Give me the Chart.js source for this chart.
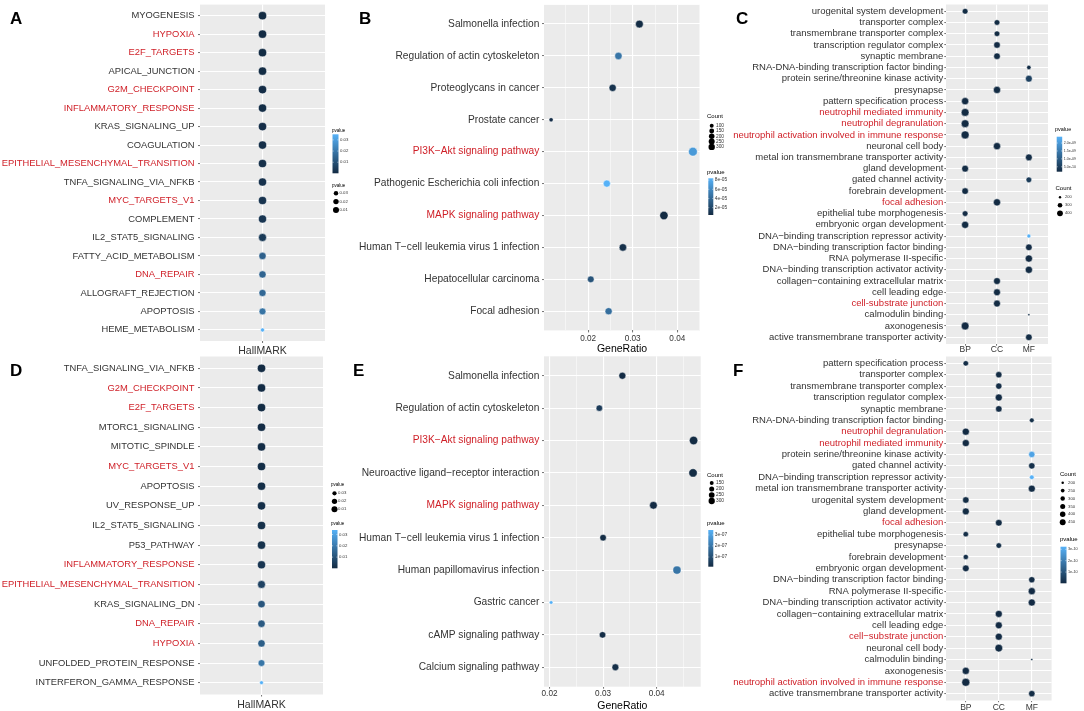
<!DOCTYPE html>
<html lang="en">
<head>
<meta charset="UTF-8">
<title>Enrichment dot plots</title>
<script src="https://cdn.jsdelivr.net/npm/chart.js"></script>
<style>
  html, body { margin: 0; padding: 0; background: #fff; width: 1084px; height: 711px; overflow: hidden; }
  canvas { position: absolute; }
  .tag { position: absolute; font: bold 17px "Liberation Sans", Arial, sans-serif; line-height: 17px; color: #000; }
</style>
</head>
<body>
<canvas id="cA"></canvas>
<canvas id="cB"></canvas>
<canvas id="cC"></canvas>
<canvas id="cD"></canvas>
<canvas id="cE"></canvas>
<canvas id="cF"></canvas>
<div class="tag" style="left:10px;top:10px">A</div>
<div class="tag" style="left:359px;top:10px">B</div>
<div class="tag" style="left:736px;top:10px">C</div>
<div class="tag" style="left:10px;top:362px">D</div>
<div class="tag" style="left:353px;top:362px">E</div>
<div class="tag" style="left:733px;top:362px">F</div>
<script>
// ---- A: hallmark sets, first comparison ----
const termsA = ['MYOGENESIS', 'HYPOXIA', 'E2F_TARGETS', 'APICAL_JUNCTION', 'G2M_CHECKPOINT',
  'INFLAMMATORY_RESPONSE', 'KRAS_SIGNALING_UP', 'COAGULATION', 'EPITHELIAL_MESENCHYMAL_TRANSITION',
  'TNFA_SIGNALING_VIA_NFKB', 'MYC_TARGETS_V1', 'COMPLEMENT', 'IL2_STAT5_SIGNALING',
  'FATTY_ACID_METABOLISM', 'DNA_REPAIR', 'ALLOGRAFT_REJECTION', 'APOPTOSIS', 'HEME_METABOLISM'];
const pvalA = [0.0001, 0.0002, 0.0003, 0.0005, 0.0006, 0.0008, 0.0010, 0.0012, 0.0015,
  0.0020, 0.0025, 0.0030, 0.0040, 0.0140, 0.0150, 0.0160, 0.0190, 0.0350];
const redA = ['HYPOXIA', 'E2F_TARGETS', 'G2M_CHECKPOINT', 'INFLAMMATORY_RESPONSE',
  'EPITHELIAL_MESENCHYMAL_TRANSITION', 'MYC_TARGETS_V1', 'DNA_REPAIR'];

// ---- B: KEGG, first comparison ----
const termsB = ['Salmonella infection', 'Regulation of actin cytoskeleton', 'Proteoglycans in cancer',
  'Prostate cancer', 'PI3K\u2212Akt signaling pathway', 'Pathogenic Escherichia coli infection',
  'MAPK signaling pathway', 'Human T\u2212cell leukemia virus 1 infection', 'Hepatocellular carcinoma',
  'Focal adhesion'];
const ratioB = [0.0315, 0.0268, 0.0255, 0.0117, 0.0435, 0.0242, 0.0370, 0.0278, 0.0206, 0.0246];
const countB = [236, 201, 191, 88, 326, 181, 278, 208, 154, 185];
const pvalB = [5e-6, 4.8e-5, 9e-6, 6e-6, 7e-5, 8.4e-5, 4e-6, 7e-6, 2.8e-5, 4.4e-5];
const redB = ['PI3K\u2212Akt signaling pathway', 'MAPK signaling pathway'];

// ---- C: GO, first comparison ----
const termsC = ['urogenital system development', 'transporter complex', 'transmembrane transporter complex',
  'transcription regulator complex', 'synaptic membrane', 'RNA-DNA-binding transcription factor binding',
  'protein serine/threonine kinase activity', 'presynapse', 'pattern specification process',
  'neutrophil mediated immunity', 'neutrophil degranulation',
  'neutrophil activation involved in immune response', 'neuronal cell body',
  'metal ion transmembrane transporter activity', 'gland development', 'gated channel activity',
  'forebrain development', 'focal adhesion', 'epithelial tube morphogenesis', 'embryonic organ development',
  'DNA\u2212binding transcription repressor activity', 'DNA\u2212binding transcription factor binding',
  'RNA polymerase II-specific', 'DNA\u2212binding transcription activator activity',
  'collagen\u2212containing extracellular matrix', 'cell leading edge', 'cell-substrate junction',
  'calmodulin binding', 'axonogenesis', 'active transmembrane transporter activity'];
const ontC = ['BP', 'CC', 'CC', 'CC', 'CC', 'MF', 'MF', 'CC', 'BP', 'BP', 'BP', 'BP', 'CC', 'MF', 'BP',
  'MF', 'BP', 'CC', 'BP', 'BP', 'MF', 'MF', 'MF', 'MF', 'CC', 'CC', 'CC', 'MF', 'BP', 'MF'];
const countC = [292, 290, 288, 346, 346, 233, 361, 395, 395, 450, 448, 470, 395, 361, 361, 292, 346, 395,
  292, 395, 219, 346, 395, 395, 370, 370, 370, 195, 450, 346];
const pvalC = [2.0e-10, 2.0e-10, 2.0e-10, 2.1e-10, 2.0e-10, 2.3e-10, 5.5e-10, 2.0e-10, 1.9e-10, 1.9e-10,
  1.9e-10, 1.9e-10, 1.95e-10, 2.4e-10, 2.0e-10, 4.5e-10, 2.0e-10, 1.95e-10, 2.1e-10, 2.0e-10,
  2.4e-9, 2.1e-10, 1.95e-10, 2.0e-10, 2.0e-10, 2.0e-10, 2.0e-10, 2.5e-10, 1.9e-10, 2.2e-10];
const redC = ['neutrophil mediated immunity', 'neutrophil degranulation',
  'neutrophil activation involved in immune response', 'focal adhesion', 'cell-substrate junction'];

// ---- D: hallmark sets, second comparison ----
const termsD = ['TNFA_SIGNALING_VIA_NFKB', 'G2M_CHECKPOINT', 'E2F_TARGETS', 'MTORC1_SIGNALING',
  'MITOTIC_SPINDLE', 'MYC_TARGETS_V1', 'APOPTOSIS', 'UV_RESPONSE_UP', 'IL2_STAT5_SIGNALING', 'P53_PATHWAY',
  'INFLAMMATORY_RESPONSE', 'EPITHELIAL_MESENCHYMAL_TRANSITION', 'KRAS_SIGNALING_DN', 'DNA_REPAIR',
  'HYPOXIA', 'UNFOLDED_PROTEIN_RESPONSE', 'INTERFERON_GAMMA_RESPONSE'];
const pvalD = [0.0001, 0.0002, 0.0003, 0.0004, 0.0006, 0.0008, 0.0010, 0.0012, 0.0015, 0.0020,
  0.0030, 0.0060, 0.0110, 0.0120, 0.0130, 0.0190, 0.0340];
const redD = ['G2M_CHECKPOINT', 'E2F_TARGETS', 'MYC_TARGETS_V1', 'INFLAMMATORY_RESPONSE',
  'EPITHELIAL_MESENCHYMAL_TRANSITION', 'DNA_REPAIR', 'HYPOXIA'];

// ---- E: KEGG, second comparison ----
const termsE = ['Salmonella infection', 'Regulation of actin cytoskeleton', 'PI3K\u2212Akt signaling pathway',
  'Neuroactive ligand\u2212receptor interaction', 'MAPK signaling pathway',
  'Human T\u2212cell leukemia virus 1 infection', 'Human papillomavirus infection', 'Gastric cancer',
  'cAMP signaling pathway', 'Calcium signaling pathway'];
const ratioE = [0.0336, 0.0293, 0.0469, 0.0468, 0.0394, 0.0300, 0.0438, 0.0203, 0.0299, 0.0323];
const countE = [215, 188, 300, 300, 252, 192, 280, 130, 191, 207];
const pvalE = [1.5e-8, 5e-8, 1.2e-8, 1.4e-8, 1.3e-8, 1.6e-8, 1.95e-7, 3.45e-7, 1.8e-8, 2.2e-8];
const redE = ['PI3K\u2212Akt signaling pathway', 'MAPK signaling pathway'];

// ---- F: GO, second comparison ----
const termsF = ['pattern specification process', 'transporter complex', 'transmembrane transporter complex',
  'transcription regulator complex', 'synaptic membrane', 'RNA-DNA-binding transcription factor binding',
  'neutrophil degranulation', 'neutrophil mediated immunity', 'protein serine/threonine kinase activity',
  'gated channel activity', 'DNA\u2212binding transcription repressor activity',
  'metal ion transmembrane transporter activity', 'urogenital system development', 'gland development',
  'focal adhesion', 'epithelial tube morphogenesis', 'presynapse', 'forebrain development',
  'embryonic organ development', 'DNA\u2212binding transcription factor binding', 'RNA polymerase II-specific',
  'DNA\u2212binding transcription activator activity', 'collagen\u2212containing extracellular matrix',
  'cell leading edge', 'cell\u2212substrate junction', 'neuronal cell body', 'calmodulin binding',
  'axonogenesis', 'neutrophil activation involved in immune response',
  'active transmembrane transporter activity'];
const ontF = ['BP', 'CC', 'CC', 'CC', 'CC', 'MF', 'BP', 'BP', 'MF', 'MF', 'MF', 'MF', 'BP', 'BP', 'CC',
  'BP', 'CC', 'BP', 'BP', 'MF', 'MF', 'MF', 'CC', 'CC', 'CC', 'CC', 'MF', 'BP', 'BP', 'MF'];
const countF = [271, 324, 320, 373, 330, 240, 380, 378, 320, 325, 235, 370, 330, 365, 345, 270, 275, 260,
  345, 320, 380, 378, 372, 368, 375, 430, 190, 385, 460, 325];
const pvalF = [8e-12, 5e-12, 6e-12, 2e-12, 4e-12, 1.2e-11, 1e-12, 1e-12, 2.9e-10, 1.5e-11, 3.23e-10, 6e-12,
  5e-12, 3e-12, 3e-12, 9e-12, 1e-11, 1.1e-11, 4e-12, 6e-12, 2e-12, 2e-12, 2e-12, 2e-12, 2e-12, 1e-12,
  1.5e-11, 2e-12, 1e-12, 7e-12];
const redF = ['neutrophil degranulation', 'neutrophil mediated immunity', 'focal adhesion',
  'cell\u2212substrate junction', 'neutrophil activation involved in immune response'];

// axis and key tick labels
const ontologies = ['BP', 'CC', 'MF'];
const ratioMajor = [0.02, 0.03, 0.04];
const ratioMinor = [0.015, 0.025, 0.035, 0.045];
const keyHall = [0.01, 0.02, 0.03];
const keyHallText = ['0.01', '0.02', '0.03'];
const keyPB = [2e-5, 4e-5, 6e-5, 8e-5];
const keyPBText = ['2e-05', '4e-05', '6e-05', '8e-05'];
const keyCountB = [100, 150, 200, 250, 300];
const keyPC = [5e-10, 1e-9, 1.5e-9, 2e-9];
const keyPCText = ['5.0e-10', '1.0e-09', '1.5e-09', '2.0e-09'];
const keyCountC = [200, 300, 400];
const keyPE = [1e-7, 2e-7, 3e-7];
const keyPEText = ['1e-07', '2e-07', '3e-07'];
const keyCountE = [150, 200, 250, 300];
const keyPF = [1e-10, 2e-10, 3e-10];
const keyPFText = ['1e-10', '2e-10', '3e-10'];
const keyCountF = [200, 250, 300, 350, 400, 450];

const FONT = '"Liberation Sans", Arial, Helvetica, sans-serif';
const RED = '#cf1f27', GREY = '#333333';
const LOW = [19, 43, 67], HIGH = [86, 177, 247];   // ggplot default gradient

function mix(t) {
  t = Math.max(0, Math.min(1, t));
  const c = LOW.map((v, i) => Math.round(v + (HIGH[i] - v) * t));
  return 'rgb(' + c.join(',') + ')';
}
function shader(vals) {
  const lo = Math.min(...vals), hi = Math.max(...vals);
  return { lo, hi, f: p => mix((p - lo) / (hi - lo)) };
}
// area scaling like scale_size
function sizer(vals, rLo, rHi, flip) {
  const lo = Math.min(...vals), hi = Math.max(...vals);
  return v => {
    let t = (v - lo) / (hi - lo);
    if (flip) t = 1 - t;
    t = Math.max(0, Math.min(1, t));
    return rLo + (rHi - rLo) * Math.sqrt(t);
  };
}
function padRange(vals) {
  const lo = Math.min(...vals), hi = Math.max(...vals), e = (hi - lo) * 0.05;
  return [lo - e, hi + e];
}

const panelBg = {
  id: 'panelBg',
  beforeDraw(chart) {
    const { ctx, chartArea: a } = chart;
    ctx.save();
    ctx.fillStyle = '#ebebeb';
    ctx.fillRect(a.left, a.top, a.right - a.left, a.bottom - a.top);
    ctx.restore();
  }
};

function drawBarKey(ctx, k) {
  ctx.textAlign = 'left';
  ctx.textBaseline = 'middle';
  ctx.fillStyle = '#000';
  ctx.font = k.ts + 'px ' + FONT;
  ctx.fillText(k.title, k.tx, k.ty);
  const g = ctx.createLinearGradient(0, k.y + k.h, 0, k.y);
  for (let s = 0; s <= 10; s++) g.addColorStop(s / 10, mix(s / 10));
  ctx.fillStyle = g;
  ctx.fillRect(k.x, k.y, k.w, k.h);
  ctx.font = k.ls + 'px ' + FONT;
  k.ticks.forEach((v, i) => {
    const yy = k.y + k.h - (v - k.sc.lo) / (k.sc.hi - k.sc.lo) * k.h;
    ctx.strokeStyle = '#fff';
    ctx.lineWidth = 0.5;
    ctx.beginPath();
    ctx.moveTo(k.x, yy); ctx.lineTo(k.x + k.w * 0.2, yy);
    ctx.moveTo(k.x + k.w * 0.8, yy); ctx.lineTo(k.x + k.w, yy);
    ctx.stroke();
    ctx.fillStyle = '#333';
    ctx.fillText(k.text[i], k.x + k.w + 1.5, yy);
  });
}
function drawSizeKey(ctx, k) {
  ctx.textAlign = 'left';
  ctx.textBaseline = 'middle';
  ctx.fillStyle = '#000';
  ctx.font = k.ts + 'px ' + FONT;
  ctx.fillText(k.title, k.tx, k.ty);
  ctx.font = k.ls + 'px ' + FONT;
  k.values.forEach((v, i) => {
    const yy = k.y0 + i * k.step;
    ctx.fillStyle = '#000';
    ctx.beginPath();
    ctx.arc(k.x, yy, k.r(v) * k.scale, 0, Math.PI * 2);
    ctx.fill();
    ctx.fillStyle = '#333';
    ctx.fillText(k.text ? k.text[i] : String(v), k.lx, yy);
  });
}
function keyPlugin(keys, ox, oy) {
  return {
    id: 'dotKey',
    afterDraw(chart) {
      const ctx = chart.ctx;
      ctx.save();
      ctx.translate(-ox, -oy);
      keys.forEach(k => k.kind === 'bar' ? drawBarKey(ctx, k) : drawSizeKey(ctx, k));
      ctx.restore();
    }
  };
}

function makePanel(id, o) {
  const [bx, by, bw, bh] = o.box;
  const [pl, pt, pr, pb] = o.plot;
  const cv = document.getElementById(id);
  cv.width = bw; cv.height = bh;
  cv.style.left = bx + 'px'; cv.style.top = by + 'px';
  const n = o.labels.length;
  const title = o.xTitle ? {
    display: true, text: o.xTitle, color: '#000',
    font: { family: FONT, size: 10.5 },
    padding: { top: 0, bottom: by + bh - o.xTitleY - 10.5 * 0.6 }
  } : { display: false };
  return new Chart(cv, {
    type: 'scatter',
    data: {
      datasets: [{
        data: o.labels.map((_, i) => ({ x: o.x[i], y: i })),
        pointRadius: o.radius,
        pointHoverRadius: o.radius,
        pointBackgroundColor: o.colour,
        pointBorderColor: 'rgba(255,255,255,0.9)',
        pointBorderWidth: 0.5,
        clip: 8
      }]
    },
    options: {
      responsive: false,
      animation: false,
      events: [],
      layout: { padding: { left: 0, top: pt - by, right: bx + bw - pr, bottom: 0 } },
      plugins: { legend: { display: false }, tooltip: { enabled: false } },
      scales: {
        x: {
          type: 'linear', min: o.xRange[0], max: o.xRange[1],
          afterBuildTicks: s => { s.ticks = o.xTicks.map(t => ({ value: t.v, minor: !!t.minor })); },
          afterFit: s => { s.height = by + bh - pb; s.paddingLeft = 0; s.paddingRight = 0; },
          border: { display: false },
          grid: {
            color: '#ffffff',
            lineWidth: c => (c.tick && c.tick.minor) ? 0.5 : 1.1,
            tickLength: o.tickLen,
            tickWidth: 0.7,
            tickColor: c => (c.tick && c.tick.minor) ? 'rgba(0,0,0,0)' : '#333333'
          },
          ticks: {
            autoSkip: false, maxRotation: 0, padding: o.xPad, color: GREY,
            font: { family: FONT, size: o.xFont },
            callback: (v, i, ts) => ts[i].minor ? '' : o.xText(v)
          },
          title: title
        },
        y: {
          type: 'linear', reverse: true, min: -0.6, max: n - 0.4,
          afterBuildTicks: s => { s.ticks = o.labels.map((_, i) => ({ value: i })); },
          afterFit: s => { s.width = pl - bx; s.paddingTop = 0; s.paddingBottom = 0; },
          border: { display: false },
          grid: { color: '#ffffff', lineWidth: 1.1, tickLength: o.tickLen, tickWidth: 0.7, tickColor: '#333333' },
          ticks: {
            autoSkip: false, padding: o.yPad,
            font: { family: FONT, size: o.yFont },
            color: c => o.red.includes(o.labels[c.index]) ? RED : GREY,
            callback: v => o.labels[v]
          }
        }
      }
    },
    plugins: [panelBg, keyPlugin(o.keys, bx, by)]
  });
}

// ---------- A ----------
const shA = shader(pvalA), szA = sizer(pvalA, 2.0, 4.1, true);
makePanel('cA', {
  box: [0, 0, 365, 360], plot: [200, 1, 325, 341],
  labels: termsA, red: redA, yFont: 9.4, yPad: 3.5, tickLen: 2,
  x: termsA.map(() => 0), xRange: [-0.6, 0.6], xTicks: [{ v: 0 }], xText: () => 'HallMARK', xFont: 10.5, xPad: 2,
  radius: pvalA.map(szA), colour: pvalA.map(shA.f),
  keys: [
    { kind: 'bar', title: 'pvalue', tx: 332, ty: 130.5, x: 332.5, y: 134.3, w: 6, h: 39, ts: 4.5, ls: 4.3,
      sc: shA, ticks: keyHall, text: keyHallText },
    { kind: 'size', title: 'pvalue', tx: 332, ty: 186, x: 336, y0: 193.3, step: 8.3, lx: 339.5, ts: 4.5, ls: 4.3,
      values: [0.03, 0.02, 0.01], text: ['0.03', '0.02', '0.01'], r: szA, scale: 0.8 }
  ]
});

// ---------- B ----------
const shB = shader(pvalB), szB = sizer(countB, 2.1, 4.4, false);
const ticksB = ratioMajor.map(v => ({ v })).concat(ratioMinor.map(v => ({ v, minor: true })));
const rangeB = padRange(ratioB);
makePanel('cB', {
  box: [330, 0, 405, 360], plot: [544, 1.3, 700, 330.4],
  labels: termsB, red: redB, yFont: 10.2, yPad: 2.7, tickLen: 2,
  x: ratioB, xRange: rangeB, xTicks: ticksB.filter(t => t.v >= rangeB[0] && t.v <= rangeB[1]),
  xText: v => v.toFixed(2), xFont: 8.2, xPad: 1, xTitle: 'GeneRatio', xTitleY: 349.5,
  radius: countB.map(szB), colour: pvalB.map(shB.f),
  keys: [
    { kind: 'size', title: 'Count', tx: 707, ty: 116.7, x: 711.7, y0: 125.7, step: 5.3, lx: 716, ts: 6, ls: 4.8,
      values: keyCountB, r: szB, scale: 0.75 },
    { kind: 'bar', title: 'pvalue', tx: 707, ty: 172.7, x: 708.3, y: 178.3, w: 5, h: 36.7, ts: 6, ls: 4.8,
      sc: shB, ticks: keyPB, text: keyPBText }
  ]
});

// ---------- C ----------
const shC = shader(pvalC), szC = sizer(countC, 1.1, 4.0, false);
makePanel('cC', {
  box: [725, 0, 359, 356], plot: [946, 0, 1048, 344],
  labels: termsC, red: redC, yFont: 9.5, yPad: 1, tickLen: 1.7,
  x: ontC.map(g => ontologies.indexOf(g)), xRange: [-0.6, 2.6], xTicks: ontologies.map((_, i) => ({ v: i })),
  xText: v => ontologies[v], xFont: 8.5, xPad: -1,
  radius: countC.map(szC), colour: pvalC.map(shC.f),
  keys: [
    { kind: 'bar', title: 'pvalue', tx: 1055, ty: 129.5, x: 1056.7, y: 136.7, w: 5.5, h: 35, ts: 5.5, ls: 3.6,
      sc: shC, ticks: keyPC, text: keyPCText },
    { kind: 'size', title: 'Count', tx: 1055.5, ty: 188.3, x: 1060, y0: 197.3, step: 8, lx: 1065, ts: 6, ls: 4,
      values: keyCountC, r: szC, scale: 0.8 }
  ]
});

// ---------- D ----------
const shD = shader(pvalD), szD = sizer(pvalD, 1.9, 4.1, true);
makePanel('cD', {
  box: [0, 350, 365, 361], plot: [200, 356.5, 323, 694.5],
  labels: termsD, red: redD, yFont: 9.4, yPad: 3.5, tickLen: 2,
  x: termsD.map(() => 0), xRange: [-0.6, 0.6], xTicks: [{ v: 0 }], xText: () => 'HallMARK', xFont: 10.5, xPad: 2.5,
  radius: pvalD.map(szD), colour: pvalD.map(shD.f),
  keys: [
    { kind: 'size', title: 'pvalue', tx: 331, ty: 485, x: 334.5, y0: 493.3, step: 8, lx: 338, ts: 4.5, ls: 4.3,
      values: [0.03, 0.02, 0.01], text: ['0.03', '0.02', '0.01'], r: szD, scale: 0.8 },
    { kind: 'bar', title: 'pvalue', tx: 331, ty: 524, x: 332, y: 530, w: 5.5, h: 38.3, ts: 4.5, ls: 4.3,
      sc: shD, ticks: keyHall, text: keyHallText }
  ]
});

// ---------- E ----------
const shE = shader(pvalE), szE = sizer(countE, 1.8, 4.2, false);
const rangeE = padRange(ratioE);
makePanel('cE', {
  box: [330, 350, 405, 370], plot: [544, 356.3, 700.7, 686.7],
  labels: termsE, red: redE, yFont: 10.2, yPad: 2.7, tickLen: 2,
  x: ratioE, xRange: rangeE, xTicks: ticksB.filter(t => t.v >= rangeE[0] && t.v <= rangeE[1]),
  xText: v => v.toFixed(2), xFont: 8.2, xPad: 0, xTitle: 'GeneRatio', xTitleY: 706,
  radius: countE.map(szE), colour: pvalE.map(shE.f),
  keys: [
    { kind: 'size', title: 'Count', tx: 707, ty: 475, x: 711.7, y0: 483, step: 6, lx: 716, ts: 6, ls: 4.8,
      values: keyCountE, r: szE, scale: 0.75 },
    { kind: 'bar', title: 'pvalue', tx: 707, ty: 523.3, x: 708.3, y: 530, w: 5, h: 36.7, ts: 6, ls: 4.8,
      sc: shE, ticks: keyPE, text: keyPEText }
  ]
});

// ---------- F ----------
const shF = shader(pvalF), szF = sizer(countF, 1.1, 4.0, false);
makePanel('cF', {
  box: [725, 350, 359, 370], plot: [946, 356.5, 1051.6, 700.5],
  labels: termsF, red: redF, yFont: 9.5, yPad: 1, tickLen: 1.7,
  x: ontF.map(g => ontologies.indexOf(g)), xRange: [-0.6, 2.6], xTicks: ontologies.map((_, i) => ({ v: i })),
  xText: v => ontologies[v], xFont: 8.5, xPad: 0.6,
  radius: countF.map(szF), colour: pvalF.map(shF.f),
  keys: [
    { kind: 'size', title: 'Count', tx: 1060, ty: 474.3, x: 1062.7, y0: 482.7, step: 7.9, lx: 1068, ts: 6, ls: 4.3,
      values: keyCountF, r: szF, scale: 0.75 },
    { kind: 'bar', title: 'pvalue', tx: 1060, ty: 539.3, x: 1060.5, y: 546.7, w: 6, h: 36.6, ts: 6, ls: 3.8,
      sc: shF, ticks: keyPF, text: keyPFText }
  ]
});
</script>
</body>
</html>
